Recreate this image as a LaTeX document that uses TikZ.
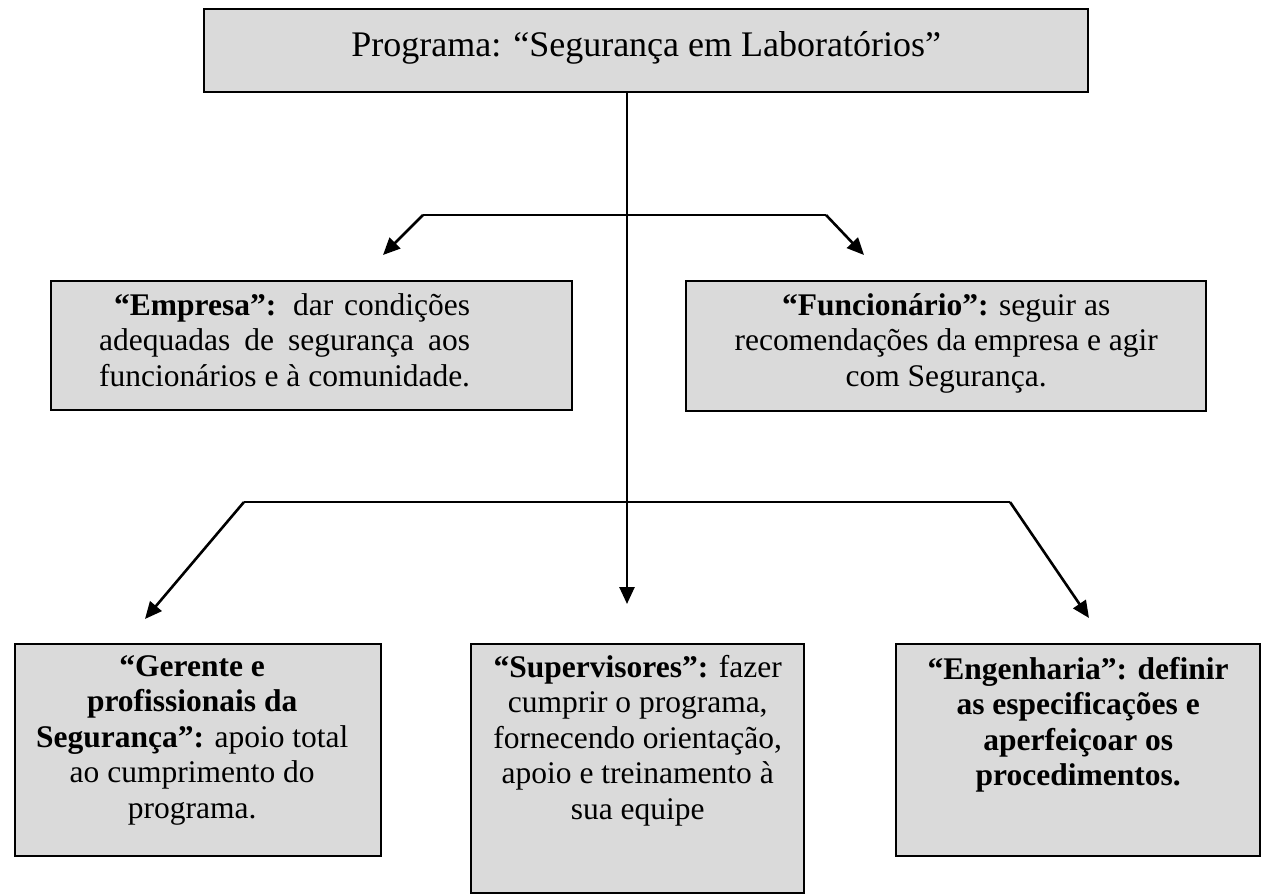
\documentclass[tikz,border=0pt]{standalone}
\usepackage{fontspec}
\setmainfont{Liberation Serif}
\usetikzlibrary{arrows.meta}
\tikzset{
  box/.style = {draw=black, line width=2.4pt, fill=boxgray, inner sep=0pt, anchor=north west},
  txt/.style = {align=center, inner sep=0pt, anchor=north, font=\body},
  conn/.style = {line width=2.6pt, draw=black},
  arr/.style = {conn, -{Triangle[length=17pt,width=15pt]}}
}
\definecolor{boxgray}{HTML}{DADADA}
\newcommand{\body}{\fontsize{31.5}{35.5}\selectfont}
\newcommand{\ttl}{\fontsize{36}{40}\selectfont}

\begin{document}
\begin{tikzpicture}[x=1pt,y=-1pt]
\useasboundingbox (0,0) rectangle (1262,894);

% boxes
\node [box, minimum width=884pt, minimum height=83pt] (prog) at (203,8) {};
\node [box, minimum width=521pt, minimum height=129pt] (emp) at (50,280) {};
\node [box, minimum width=520pt, minimum height=130pt] (func) at (685,280) {};
\node [box, minimum width=366pt, minimum height=212pt] (ger) at (14,643) {};
\node [box, minimum width=333pt, minimum height=249pt] (sup) at (470,643) {};
\node [box, minimum width=364pt, minimum height=212pt] (eng) at (895,643) {};

% texts
\node [anchor=center, inner sep=0pt, font=\ttl] (progtxt) at ([yshift=3pt]prog.center)
  {Programa: ``Segurança em Laboratórios''};
\node [anchor=north west, inner sep=0pt, font=\body, align=left] (emptxt) at (99,293)
  {\hspace*{15pt}\makebox[356pt][s]{\textbf{``Empresa'':} dar condições}\\
   \makebox[371pt][s]{adequadas de segurança aos}\\
   funcionários e à comunidade.};
\node [txt] (functxt) at ([yshift=-13pt]func.north)
  {\textbf{``Funcionário'':} seguir as\\
   recomendações da empresa e agir\\
   com Segurança.};
\node [txt] (gertxt) at ([xshift=-6pt,yshift=-12pt]ger.north)
  {\textbf{``Gerente e}\\
   \textbf{profissionais da}\\
   \textbf{Segurança'':} apoio total\\
   ao cumprimento do\\
   programa.};
\node [txt] (suptxt) at ([yshift=-12pt]sup.north)
  {\textbf{``Supervisores'':} fazer\\
   cumprir o programa,\\
   fornecendo orientação,\\
   apoio e treinamento à\\
   sua equipe};
\node [txt, font=\body\bfseries] (engtxt) at ([yshift=-14pt]eng.north)
  {``Engenharia'': definir\\
   as especificações e\\
   aperfeiçoar os\\
   procedimentos.};

% branch points and arrow ends
\coordinate (up1) at (423,215);
\coordinate (up2) at (826,215);
\coordinate (lo1) at (244,502);
\coordinate (lo2) at (1010,502);
\coordinate (toemp) at (383,255);
\coordinate (tofunc) at (864,255);
\coordinate (toger) at (145,619);
\coordinate (tosup) at (627,604);
\coordinate (toeng) at (1089,618);

% connectors
\draw [arr] (prog.south -| tosup) -- (tosup);
\draw [conn] (up1) -- (up2);
\draw [arr] (up1) -- (toemp);
\draw [arr] (up2) -- (tofunc);
\draw [conn] (lo1) -- (lo2);
\draw [arr] (lo1) -- (toger);
\draw [arr] (lo2) -- (toeng);
\end{tikzpicture}
\end{document}
